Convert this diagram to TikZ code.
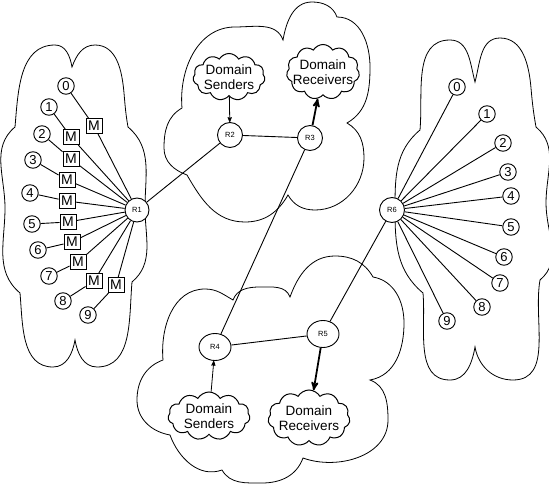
\documentclass[tikz,border=0pt]{standalone}
\usepackage{fontspec}
\setsansfont{Liberation Sans}
\usepackage{tikz}
\usetikzlibrary{arrows,calc,positioning,shapes}
\tikzset{
  host_n/.style = {circle, draw, fill=white, inner sep=0pt, minimum size=16.5pt,
  font=\sffamily\fontsize{13}{13}\selectfont},
  mbox/.style = {rectangle, draw, fill=white, inner sep=0pt, minimum width=16pt,
  minimum height=15pt, font=\sffamily\fontsize{14}{14}\selectfont},
  rtr_c/.style = {circle, draw, fill=white, inner sep=0pt, minimum size=25pt,
  font=\sffamily\fontsize{7.5}{7.5}\selectfont},
  rtr_e/.style = {ellipse, draw, fill=white, inner sep=0pt, minimum width=32pt,
  minimum height=27pt, font=\sffamily\fontsize{7.5}{7.5}\selectfont},
  dom_cloud/.style = {cloud, draw, fill=white, cloud puffs=11, cloud puff arc=120,
  line width=1pt},
  dom_text/.style = {align=center, inner sep=0pt, font=\sffamily\fontsize{13.5}{15}\selectfont}
}

\begin{document}
\begin{tikzpicture}[x=1pt, y=1pt, line width=0.9pt, >=stealth',
        area/.style={line width=0.8pt},
        thin_arr/.style={->, line width=0.8pt},
        thick_arr/.style={->, line width=1.8pt}]
    \useasboundingbox (0,0) rectangle (549,488);

    % the four areas
    \draw[area] (72,421) to[out=70,in=180] (95,443) to[out=0,in=95] (124,395)
        to[out=-85,in=100] (128,361)
        to[out=-40,in=90] (145,280) to[out=-90,in=40] (132,206)
        to[out=-95,in=0] (97,121) to[out=180,in=-80] (75,148)
        to[out=-100,in=0] (53,121) to[out=180,in=-85] (20,195)
        to[out=140,in=-90] (5,280) to[out=90,in=-140] (15,361)
        to[out=85,in=180] (55,443) to[out=0,in=100] (72,421) -- cycle;
    \draw[area] (475,406) to[out=75,in=180] (500,450) to[out=0,in=95] (531,400)
        to[out=-85,in=100] (536,361)
        to[out=-40,in=90] (546,285) to[out=-90,in=40] (540,208)
        to[out=-100,in=0] (513,108) to[out=180,in=-80] (475,141)
        to[out=-100,in=0] (450,108) to[out=180,in=-85] (423,195)
        to[out=140,in=-90] (395,278) to[out=90,in=-140] (420,358)
        to[out=85,in=180] (450,448) to[out=0,in=105] (475,406) -- cycle;
    \draw[area] (283,448) to[out=80,in=180] (312,486) to[out=0,in=110] (337,471)
        to[out=0,in=90] (370,421) to[out=-90,in=30] (347,365)
        to[out=-30,in=90] (364,330) to[out=-90,in=0] (315,278) to[out=180,in=-60] (288,293)
        to[out=-120,in=0] (245,266) to[out=180,in=-60] (187,313)
        to[out=160,in=-90] (164,340) to[out=90,in=-150] (182,380)
        to[out=95,in=180] (235,461) to[out=0,in=110] (283,448) -- cycle;
    \draw[area] (163,128) to[out=95,in=180] (205,199) to[out=0,in=150] (233,188)
        to[out=70,in=180] (260,201) to[out=0,in=110] (290,191)
        to[out=70,in=180] (335,232) to[out=0,in=120] (373,211)
        to[out=-10,in=90] (404,165) to[out=-90,in=10] (370,108)
        to[out=-20,in=90] (388,68) to[out=-90,in=-20] (303,30)
        to[out=-110,in=0] (262,5) to[out=180,in=-60] (222,18)
        to[out=-160,in=-70] (170,53)
        to[out=170,in=-90] (137,88) to[out=90,in=-160] (163,128) -- cycle;

    % routers
    \node[rtr_c, minimum size=24pt] (r1) at (137,278) {R1};
    \node[rtr_c] (r2) at (230,353) {R2};
    \node[rtr_c] (r3) at (310,350) {R3};
    \node[rtr_e] (r4) at (215,141) {R4};
    \node[rtr_e] (r5) at (323,154) {R5};
    \node[rtr_c] (r6) at (392,278) {R6};

    % domain senders and receivers
    \node[dom_cloud, minimum width=72pt, minimum height=47pt,
        label={[dom_text]center:Domain\\Senders}] (snd1) at (229,411) {};
    \node[dom_cloud, minimum width=73pt, minimum height=55pt,
        label={[dom_text]center:Domain\\Receivers}] (rcv1) at (323,416) {};
    \node[dom_cloud, minimum width=82pt, minimum height=48pt,
        label={[dom_text]center:Domain\\Senders}] (snd2) at (209,72) {};
    \node[dom_cloud, minimum width=82pt, minimum height=56pt,
        label={[dom_text]center:Domain\\Receivers}] (rcv2) at (309,70) {};

    % hosts and monitors
    \foreach \i/\x/\y in {0/66/402, 1/49/381, 2/42/354, 3/33/328, 4/30/295,
        5/32/264, 6/38/238, 7/49/212, 8/63/187, 9/88/173}
        \node[host_n] (ln\i) at (\x,\y) {\i};
    \foreach \i/\x/\y in {0/94/362, 1/71/351, 2/71/329, 3/67/308, 4/67/287,
        5/68/266, 6/72/246, 7/78/226, 8/94/207, 9/116/203}
        \node[mbox] (lm\i) at (\x,\y) {M};
    \foreach \i/\x/\y in {0/457/401, 1/487/374, 2/503/345, 3/508/316, 4/511/292,
        5/511/261, 6/504/231, 7/500/205, 8/482/181, 9/447/167}
        \node[host_n] (rn\i) at (\x,\y) {\i};

    \foreach \i in {0,...,9} {
        \draw (ln\i) -- (lm\i) -- (r1);
        \draw (rn\i) -- (r6);
    }

    \draw (r1) -- (r2) -- (r3) -- (r4) -- (r5) -- (r6);
    \draw[thin_arr] (snd1) -- (r2);
    \draw[thick_arr] (r3) -- (rcv1);
    \draw[thin_arr] (snd2) -- (r4);
    \draw[thick_arr] (r5) -- (rcv2);
\end{tikzpicture}
\end{document}
